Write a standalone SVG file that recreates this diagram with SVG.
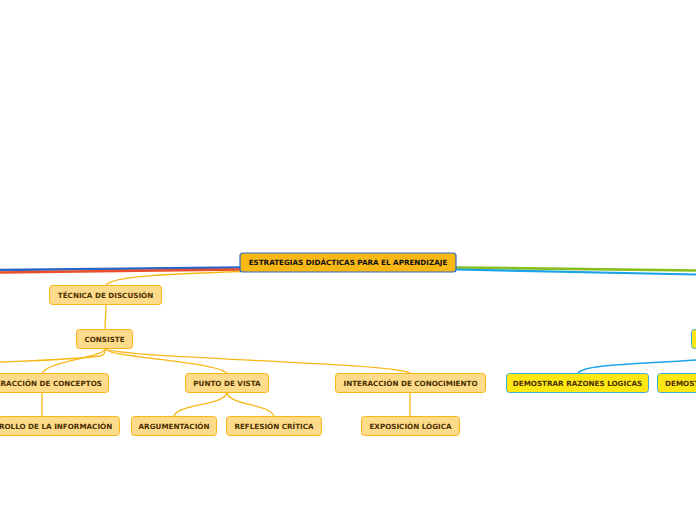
<svg xmlns="http://www.w3.org/2000/svg" width="696" height="520" viewBox="0 0 696 520">
<style>
.t{font-family:"DejaVu Sans","Verdana",sans-serif;font-weight:bold;font-size:7.2px;text-anchor:middle;fill:#4a3100}
.n{fill:#fedb8a;stroke:#f8b717;stroke-width:1}
.y{fill:#ffe714;stroke:#3aaee3;stroke-width:1}
.o{fill:none;stroke:#f8b717;stroke-width:1.3}
.b{fill:none;stroke:#1aa3e6;stroke-width:1.3}
</style>
<rect width="696" height="520" fill="#ffffff"/>
<g id="connectors">
<path d="M240,267.5 L0,270" fill="none" stroke="#2a66c8" stroke-width="2.6"/>
<path d="M240,269.5 L0,272.5" fill="none" stroke="#ea4f2a" stroke-width="2.6"/>
<path d="M456,267.5 L696,270.5" fill="none" stroke="#86bf1e" stroke-width="2.6"/>
<path d="M456,269.5 L696,274.5" fill="none" stroke="#1aa3e6" stroke-width="2.2"/>
<path class="o" d="M242,271.5 C170,274 112,276 106,285"/>
<path class="o" d="M106,305 C106,315 105,320 105,329"/>
<path class="o" d="M105,348 C105,354 104,355 100,356 C70,360 20,361 0,362"/>
<path class="o" d="M105,348 C105,358 50,360 42,373"/>
<path class="o" d="M105,348 C105,358 210,360 227,373"/>
<path class="o" d="M105,348 C105,358 390,362 410,373"/>
<path class="o" d="M42,392 L42,416"/>
<path class="o" d="M227,392 C227,405 178,404 174,416"/>
<path class="o" d="M227,392 C227,405 270,404 274,416"/>
<path class="o" d="M410,392 L410,416"/>
<path class="b" d="M696,360 C640,364 585,364 578,373"/>
</g>
<g id="root"><rect x="240" y="253" width="216" height="19" rx="3" fill="#f9b815" stroke="#2a6ac8" stroke-width="1.2"/><text class="t" x="348" y="265" style="fill:#111">ESTRATEGIAS DIDÁCTICAS PARA EL APRENDIZAJE</text></g>
<g id="tecnica"><rect class="n" x="49.5" y="285.5" width="112" height="19" rx="3"/><text class="t" x="105.5" y="297.5">TÉCNICA DE DISCUSIÓN</text></g>
<g id="consiste"><rect class="n" x="76.5" y="329.5" width="56" height="19" rx="3"/><text class="t" x="104.5" y="341.5">CONSISTE</text></g>
<g id="int-conceptos"><rect class="n" x="-24.5" y="373.5" width="133" height="19" rx="3"/><text class="t" x="42" y="385.5">INTERACCIÓN DE CONCEPTOS</text></g>
<g id="punto-vista"><rect class="n" x="185.5" y="373.5" width="83" height="19" rx="3"/><text class="t" x="227" y="385.5">PUNTO DE VISTA</text></g>
<g id="int-conocimiento"><rect class="n" x="335.5" y="373.5" width="150" height="19" rx="3"/><text class="t" x="410.5" y="385.5">INTERACCIÓN DE CONOCIMIENTO</text></g>
<g id="desarrollo"><rect class="n" x="-36.5" y="416.5" width="156" height="19" rx="3"/><text class="t" x="42" y="428.5">DESARROLLO DE LA INFORMACIÓN</text></g>
<g id="argumentacion"><rect class="n" x="131.5" y="416.5" width="85" height="19" rx="3"/><text class="t" x="174" y="428.5">ARGUMENTACIÓN</text></g>
<g id="reflesion"><rect class="n" x="226.5" y="416.5" width="95" height="19" rx="3"/><text class="t" x="274" y="428.5">REFLESIÓN CRÍTICA</text></g>
<g id="exposicion"><rect class="n" x="361.5" y="416.5" width="98" height="19" rx="3"/><text class="t" x="410.5" y="428.5">EXPOSICIÓN LÓGICA</text></g>
<g id="right-node"><rect class="y" x="691.5" y="329.5" width="40" height="19" rx="3"/></g>
<g id="demostrar1"><rect class="y" x="506.5" y="373.5" width="142" height="19" rx="3"/><text class="t" x="577.5" y="385.5">DEMOSTRAR RAZONES LOGICAS</text></g>
<g id="demostrar2"><rect class="y" x="657.5" y="373.5" width="60" height="19" rx="3"/><text class="t" x="665" y="385.5" style="text-anchor:start">DEMOST</text></g>
</svg>
